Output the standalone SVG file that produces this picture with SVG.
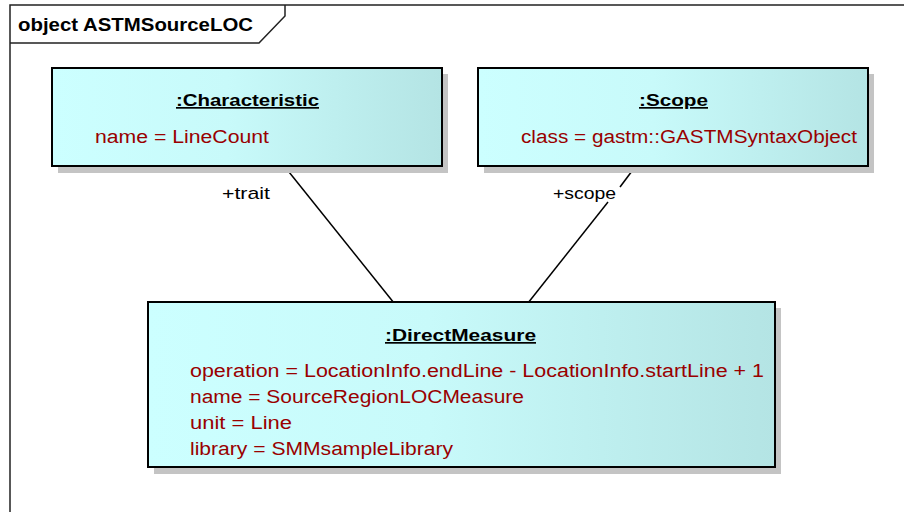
<svg xmlns="http://www.w3.org/2000/svg" width="904" height="512" viewBox="0 0 904 512">
<defs>
<linearGradient id="fill" x1="0" y1="0" x2="1" y2="0">
<stop offset="0" stop-color="#CCFFFF"/>
<stop offset="0.45" stop-color="#C8FAFA"/>
<stop offset="1" stop-color="#B4E4E4"/>
</linearGradient>
<style>
.frame{fill:none;stroke:#222;stroke-width:1.5}
.shadow{fill:#C4C4C4}
.box{fill:url(#fill);stroke:#000;stroke-width:2}
.title{font-family:"Liberation Sans",Arial,sans-serif;font-weight:bold;font-size:17px;fill:#000;text-decoration:underline}
.attr{font-family:"Liberation Sans",Arial,sans-serif;font-size:18px;fill:#990000}
.ftitle{font-family:"Liberation Sans",Arial,sans-serif;font-weight:bold;font-size:19px;fill:#000}
.role{font-family:"Liberation Sans",Arial,sans-serif;font-size:17px;fill:#000}
.conn{stroke:#000;stroke-width:1.5;fill:none}
</style>
</defs>
<rect width="904" height="512" fill="#fff"/>
<g id="frame">
<path class="frame" d="M10,512 V5 H904"/>
<path class="frame" d="M285,5 V16 L259,43 H10"/>
<text class="ftitle" x="18" y="31" textLength="235" lengthAdjust="spacingAndGlyphs">object ASTMSourceLOC</text>
</g>
<g id="connectors">
<line class="conn" x1="285" y1="167" x2="394" y2="303"/>
<line class="conn" x1="635" y1="167" x2="620" y2="187"/>
<line class="conn" x1="608" y1="202" x2="528" y2="303"/>
<text class="role" x="222" y="199" textLength="48" lengthAdjust="spacingAndGlyphs">+trait</text>
<text class="role" x="553" y="199" textLength="63" lengthAdjust="spacingAndGlyphs">+scope</text>
</g>
<g id="characteristic">
<rect class="shadow" x="58" y="74" width="390" height="99"/>
<rect class="box" x="52" y="68" width="390" height="98"/>
<text class="title" x="176" y="106" textLength="143" lengthAdjust="spacingAndGlyphs">:Characteristic</text>
<text class="attr" x="95" y="143" textLength="174" lengthAdjust="spacingAndGlyphs">name = LineCount</text>
</g>
<g id="scope">
<rect class="shadow" x="484" y="74" width="390" height="99"/>
<rect class="box" x="478" y="68" width="390" height="98"/>
<text class="title" x="639" y="106" textLength="69" lengthAdjust="spacingAndGlyphs">:Scope</text>
<text class="attr" x="521" y="143" textLength="336" lengthAdjust="spacingAndGlyphs">class = gastm::GASTMSyntaxObject</text>
</g>
<g id="directmeasure">
<rect class="shadow" x="154" y="308" width="627" height="166"/>
<rect class="box" x="148" y="302" width="627" height="165"/>
<text class="title" x="385" y="341" textLength="151" lengthAdjust="spacingAndGlyphs">:DirectMeasure</text>
<text class="attr" x="190" y="377" textLength="574" lengthAdjust="spacingAndGlyphs">operation = LocationInfo.endLine - LocationInfo.startLine + 1</text>
<text class="attr" x="190" y="403" textLength="334" lengthAdjust="spacingAndGlyphs">name = SourceRegionLOCMeasure</text>
<text class="attr" x="190" y="429" textLength="102" lengthAdjust="spacingAndGlyphs">unit = Line</text>
<text class="attr" x="190" y="455" textLength="263" lengthAdjust="spacingAndGlyphs">library = SMMsampleLibrary</text>
</g>
</svg>
